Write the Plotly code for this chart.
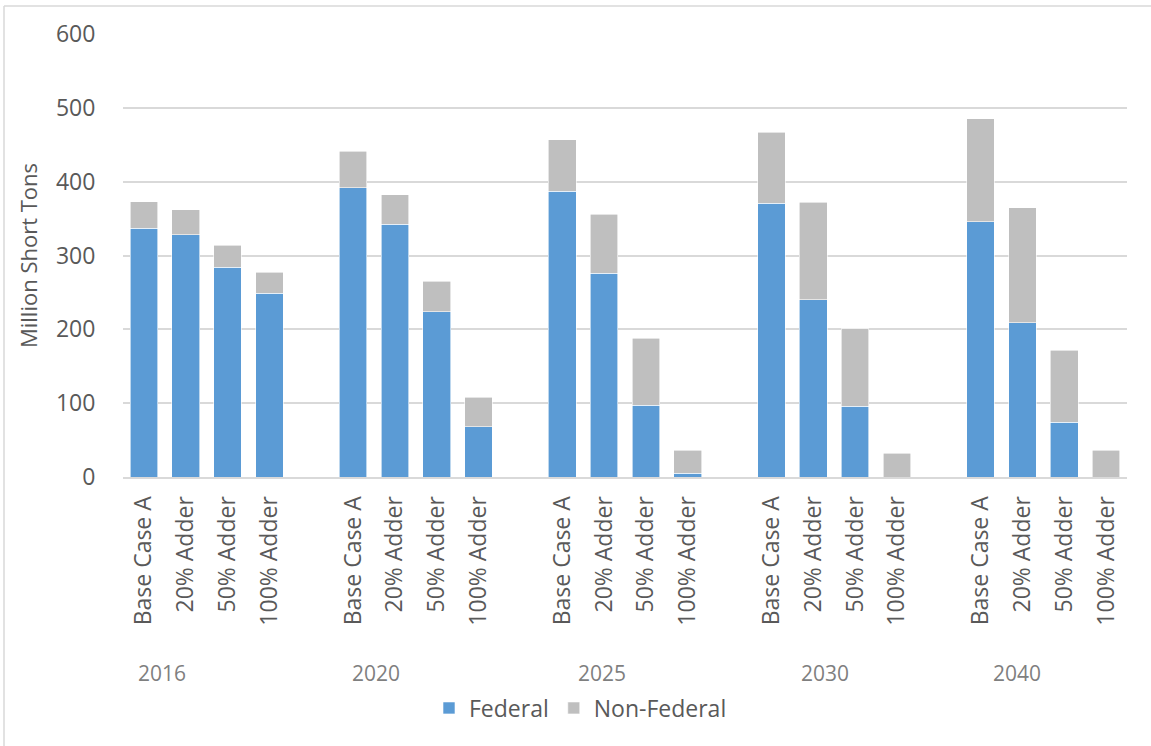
import plotly.graph_objects as go

years = ["2016", "2020", "2025", "2030", "2040"]
scenarios = ["Base Case A", "20% Adder", "50% Adder", "100% Adder"]

federal = [337, 328, 284, 249,
           392, 342, 224, 68,
           387, 276, 97, 5,
           371, 240, 96, 0,
           346, 209, 74, 0]
non_federal = [36, 34, 30, 28,
               49, 40, 41, 40,
               70, 80, 91, 31,
               96, 132, 105, 32,
               139, 156, 98, 36]

# layout helpers (positions only)
year_label_x = [0.43, 5.54, 10.96, 16.28, 20.87]

W, H = 1151, 746
ML, MR, MT, MB = 123, 24, 34, 269
plot_h = H - MT - MB

xpos, xlabels = [], []
for g, yr in enumerate(years):
    for i, sc in enumerate(scenarios):
        xpos.append(g * 5 + i)
        xlabels.append(sc)

font_main = "Open Sans, Segoe UI, Calibri, sans-serif"
txt = "#595959"

fig = go.Figure()
fig.add_trace(go.Bar(x=xpos, y=federal, name="Federal",
                     marker=dict(color="#5b9bd5", line=dict(color="white", width=0.6))))
fig.add_trace(go.Bar(x=xpos, y=non_federal, name="Non-Federal",
                     marker=dict(color="#bfbfbf", line=dict(color="white", width=0.6))))

def py(pixel_y):
    return (H - MB - pixel_y) / plot_h

annotations = []
for yr, xl in zip(years, year_label_x):
    annotations.append(dict(x=xl, y=py(672.7), xref="x", yref="paper", text=yr,
                            showarrow=False, xanchor="center", yanchor="middle",
                            font=dict(family=font_main, size=21, color="#7f7f7f")))

fig.update_layout(
    width=W, height=H,
    barmode="stack", bargap=0.34,
    plot_bgcolor="white", paper_bgcolor="white",
    margin=dict(l=ML, r=MR, t=MT, b=MB, pad=0),
    font=dict(family=font_main, color=txt),
    showlegend=True,
    legend=dict(orientation="h", traceorder="normal",
                x=(429 - ML) / (W - ML - MR), xanchor="left", y=py(708), yanchor="middle",
                font=dict(family=font_main, size=23, color=txt),
                itemwidth=30, tracegroupgap=0, bgcolor="rgba(0,0,0,0)"),
    annotations=annotations,
    shapes=[
        dict(type="line", xref="paper", yref="paper",
             x0=(4 - ML) / (W - ML - MR), x1=(1160 - ML) / (W - ML - MR),
             y0=py(6), y1=py(6), line=dict(color="#d9d9d9", width=1.5)),
        dict(type="line", xref="paper", yref="paper",
             x0=(4 - ML) / (W - ML - MR), x1=(4 - ML) / (W - ML - MR),
             y0=py(6), y1=py(760), line=dict(color="#d9d9d9", width=1.5)),
    ],
)

fig.update_xaxes(
    range=[-0.5, 23.5], tickmode="array", tickvals=xpos, ticktext=xlabels,
    tickangle=-90, tickfont=dict(family=font_main, size=23, color=txt),
    ticks="outside", ticklen=8, tickcolor="rgba(0,0,0,0)",
    showgrid=False, showline=True, linecolor="#d9d9d9", linewidth=2,
    zeroline=False,
)
fig.update_yaxes(
    range=[0, 600], tickvals=[0, 100, 200, 300, 400, 500, 600],
    tickfont=dict(family=font_main, size=23, color=txt),
    ticks="outside", ticklen=22, tickcolor="rgba(0,0,0,0)",
    showgrid=True, gridcolor="#d9d9d9", gridwidth=1.5,
    zeroline=False, showline=False,
    title=dict(text="Million Short Tons", font=dict(family=font_main, size=22, color=txt),
               standoff=12),
)

fig.write_html("out.html")
